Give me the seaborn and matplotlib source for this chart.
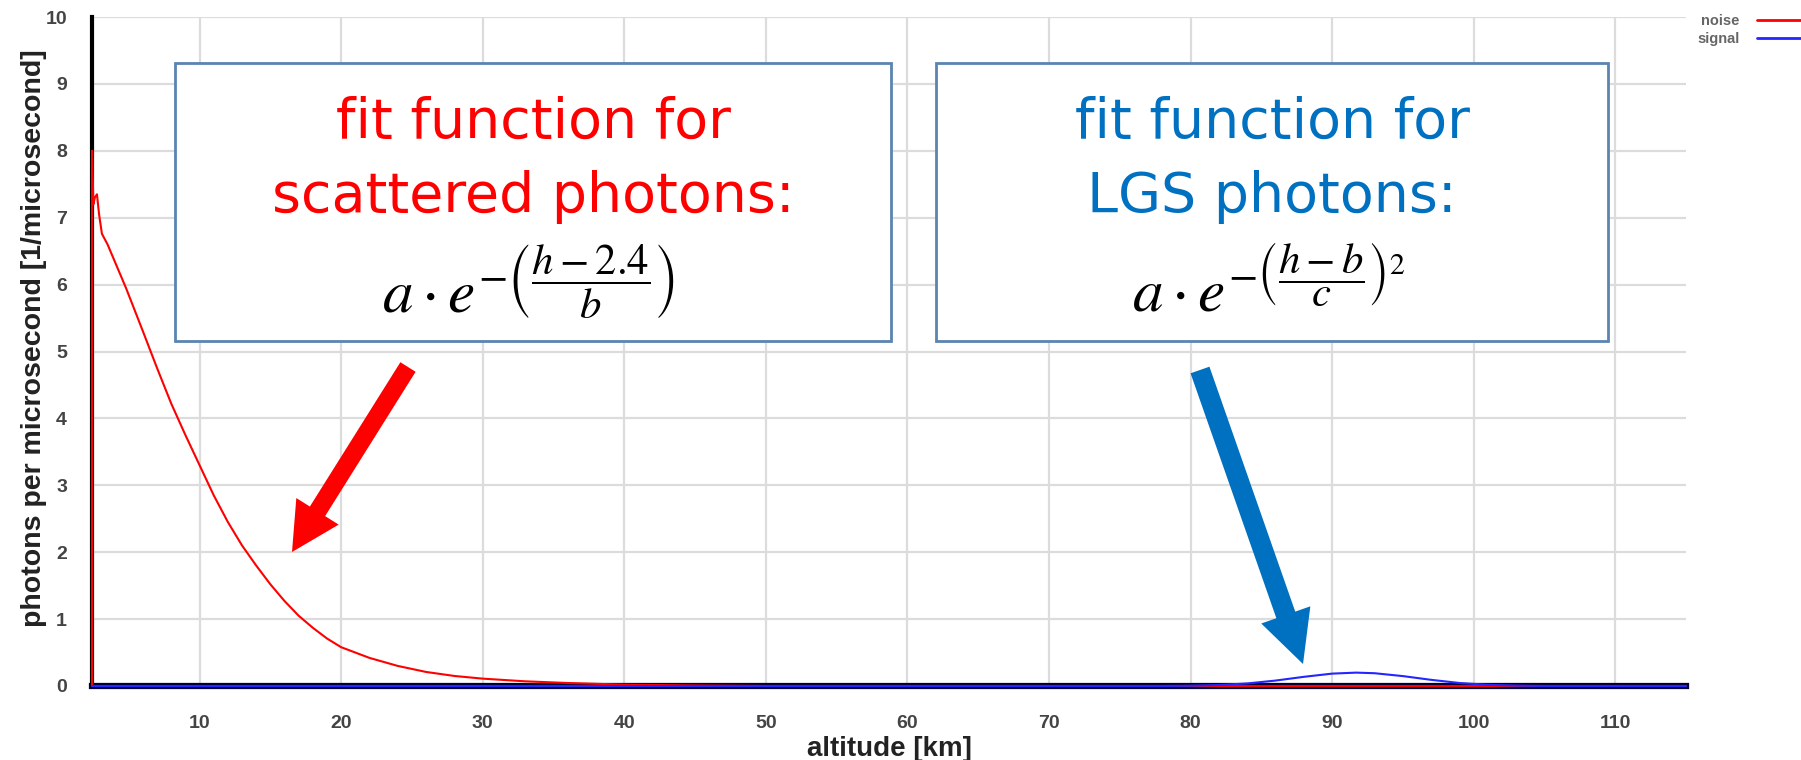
import matplotlib
matplotlib.use("Agg")
import matplotlib.pyplot as plt
import matplotlib.patches as mpatches
from matplotlib.transforms import IdentityTransform
import seaborn as sns
import numpy as np

# ---- data ----
noise_h = [2.4, 2.4, 2.5, 2.6, 2.75, 2.9, 3.1, 3.5, 3.9, 4.8, 6, 7, 8, 9, 10, 11, 12, 13,
           14, 15, 16, 17, 18, 19, 20, 22, 24, 26, 28, 30, 33, 36, 40, 45, 50, 115]
noise_v = [0.0, 8.0, 7.2, 7.3, 7.35, 7.05, 6.76, 6.6, 6.4, 5.95, 5.3, 4.75, 4.22, 3.75, 3.3,
           2.85, 2.45, 2.1, 1.8, 1.52, 1.27, 1.05, 0.87, 0.71, 0.58, 0.42, 0.3, 0.21, 0.15,
           0.11, 0.07, 0.045, 0.02, 0.008, 0.0, 0.0]

signal_h = [2.4, 78, 80, 82, 84, 86, 88, 90, 91.7, 93, 95, 97, 99, 101, 103, 105, 115]
signal_v = [0.0, 0.0, 0.004, 0.015, 0.038, 0.081, 0.137, 0.185, 0.2, 0.191, 0.148, 0.092,
            0.045, 0.018, 0.006, 0.0, 0.0]

x_ticks = [10, 20, 30, 40, 50, 60, 70, 80, 90, 100, 110]
y_ticks = [0, 1, 2, 3, 4, 5, 6, 7, 8, 9, 10]
x_label = "altitude [km]"
y_label = "photons per microsecond [1/microsecond]"
series_names = ["noise", "signal"]

W, H = 1801, 760
sns.set_style("white")
plt.rcParams['font.family'] = ['Liberation Sans', 'DejaVu Sans']

fig = plt.figure(figsize=(W / 100, H / 100), dpi=100)
ax = fig.add_axes([92 / W, 1 - 686 / H, (1686 - 92) / W, (686 - 17) / H])

sns.lineplot(x=noise_h, y=noise_v, estimator=None, sort=False, color="#ff0000",
             linewidth=1.5, ax=ax, label=series_names[0], zorder=3)
sns.lineplot(x=signal_h, y=signal_v, estimator=None, sort=False, color="#2525ff",
             linewidth=1.5, ax=ax, label=series_names[1], zorder=3.1)
for ln in ax.lines:
    ln.set_clip_on(False)

ax.set_xlim(2.4, 115)
ax.set_ylim(0, 10)
ax.set_xticks(x_ticks)
ax.set_yticks(y_ticks)
ax.set_xticks(np.arange(4, 115, 2), minor=True)
ax.set_yticks(np.arange(0.5, 10, 1.0), minor=True)
ax.grid(True, which="major", color="#dcdcdc", linewidth=1.6, zorder=0)
ax.set_axisbelow(True)

for s in ["top", "right"]:
    ax.spines[s].set_visible(False)
ax.spines["left"].set_color("black")
ax.spines["left"].set_linewidth(3)
ax.spines["bottom"].set_color("#000035")
ax.spines["bottom"].set_linewidth(4.5)

ax.tick_params(axis="both", which="major", direction="out", length=11, width=2,
               color="#111111", labelsize=14, labelcolor="#444444", pad=7)
ax.tick_params(axis="x", which="major", pad=10)
ax.tick_params(axis="both", which="minor", direction="out", length=6, width=1.3,
               color="#777777")
for lab in ax.get_xticklabels() + ax.get_yticklabels():
    lab.set_fontweight("bold")

ax.set_xlabel(x_label, fontsize=20, fontweight="bold", color="#222222", labelpad=3)
ax.set_ylabel(y_label, fontsize=20.5, fontweight="bold", color="#222222", labelpad=2)
ax.yaxis.set_label_coords(-0.028, 0.52)

leg = ax.legend(loc="upper right", bbox_to_anchor=(1.0, 1 - 14 / H),
                bbox_transform=fig.transFigure, frameon=False, markerfirst=False,
                fontsize=10.5, handlelength=3.0, handletextpad=1.2, labelspacing=0.25,
                borderaxespad=0, borderpad=0)
for t in leg.get_texts():
    t.set_color("#666666")
    t.set_fontweight("bold")
for l in leg.get_lines():
    l.set_linewidth(2)

# ---- annotation boxes ----
def fx(x):
    return x / W

def fy(y):
    return 1 - y / H

box_col = "#5b84b1"
for (x0, x1) in [(175, 891), (936, 1608)]:
    rect = mpatches.Rectangle((fx(x0), fy(341)), fx(x1) - fx(x0), fy(63) - fy(341),
                              transform=fig.transFigure, facecolor="white",
                              edgecolor=box_col, linewidth=2, zorder=5)
    fig.add_artist(rect)

tfont = dict(family="DejaVu Sans", fontsize=40, ha="center", va="baseline", zorder=6)
fig.text(fx(533), fy(138), "fit function for", color="#ff0000", **tfont)
fig.text(fx(533), fy(212), "scattered photons:", color="#ff0000", **tfont)
fig.text(fx(1272), fy(138), "fit function for", color="#0070c0", **tfont)
fig.text(fx(1272), fy(212), "LGS photons:", color="#0070c0", **tfont)

plt.rcParams['mathtext.fontset'] = 'stix'
mfont = dict(fontsize=44, ha="center", va="baseline", color="black", zorder=6)
fig.text(fx(528), fy(312), r"$a\cdot e^{-\left(\dfrac{h-2.4}{b}\right)}$", **mfont)
fig.text(fx(1269), fy(312), r"$a\cdot e^{-\left(\dfrac{h-b}{c}\right)^{2}}$", **mfont)

# ---- arrows (figure pixel coordinates) ----
def arrow(x0, y0, x1, y1, color, width, hw, hl):
    a = mpatches.FancyArrow(x0, H - y0, x1 - x0, (H - y1) - (H - y0), width=width,
                            head_width=hw, head_length=hl, length_includes_head=True,
                            transform=IdentityTransform(), color=color, zorder=7,
                            linewidth=0)
    fig.add_artist(a)

arrow(408, 367, 292, 552, "#ff0000", 18, 50, 48)
arrow(1200, 370, 1303, 664, "#0070c0", 20, 52, 52)

fig.savefig("out.png", dpi=100)
